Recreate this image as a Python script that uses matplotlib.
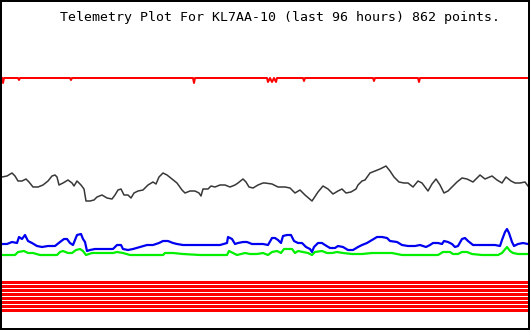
import matplotlib
matplotlib.use("Agg")
import matplotlib.pyplot as plt

title = "Telemetry Plot For KL7AA-10 (last 96 hours) 862 points."

# readings as plotted level (height above bottom of the frame), time in plot columns
red_t = [2, 3, 4, 18, 19, 20, 70, 71, 72, 193, 194, 195, 267, 268, 270, 272, 274, 276, 277,
         303, 304, 305, 373, 374, 375, 418, 419, 420, 528]
red_v = [252, 247, 252, 252, 250, 252, 252, 250, 252, 252, 247, 252, 252, 248, 252, 248, 252, 248, 252,
         252, 249, 252, 252, 249, 252, 252, 248, 252, 252]

blk_t = [2, 7, 12, 15, 18, 22, 26, 29, 33, 38, 43, 48, 52, 55, 57, 59, 63, 68, 72, 74, 77, 81, 84,
         86, 90, 94, 97, 102, 107, 112, 115, 118, 121, 124, 128, 131, 134, 138, 143, 148, 153, 156,
         159, 163, 167, 172, 177, 182, 185, 190, 195, 199, 201, 203, 208, 211, 215, 220, 225, 230,
         235, 238, 243, 246, 249, 253, 258, 263, 265, 272, 278, 285, 290, 295, 300, 305, 312, 318,
         323, 328, 333, 338, 342, 346, 351, 356, 358, 362, 365, 370, 375, 380, 386, 390, 394, 399,
         404, 408, 413, 418, 422, 428, 432, 436, 440, 444, 448, 452, 457, 462, 467, 473, 480, 485,
         492, 497, 502, 506, 511, 515, 520, 525, 528]
blk_v = [153, 154, 157, 154, 149, 149, 151, 148, 143, 143, 145, 149, 154, 155, 153, 145, 147, 150,
         147, 144, 149, 145, 141, 129, 129, 130, 133, 135, 132, 131, 135, 140, 141, 135, 135, 132,
         137, 139, 140, 145, 148, 146, 153, 157, 155, 151, 147, 140, 137, 139, 139, 137, 134, 141,
         141, 144, 143, 145, 145, 143, 145, 147, 151, 148, 143, 142, 145, 147, 147, 146, 143, 143,
         142, 137, 140, 135, 129, 138, 144, 141, 136, 139, 141, 137, 138, 141, 145, 149, 150, 157,
         159, 161, 164, 159, 153, 148, 147, 147, 143, 149, 147, 139, 146, 151, 145, 137, 139, 143,
         148, 152, 151, 148, 155, 151, 154, 150, 147, 153, 149, 147, 147, 148, 144]

blu_t = [2, 7, 12, 17, 19, 22, 25, 28, 32, 37, 42, 48, 55, 60, 64, 67, 70, 73, 77, 81, 83, 85,
         87, 90, 95, 100, 107, 113, 117, 121, 123, 128, 133, 140, 147, 153, 159, 163, 168, 173,
         177, 183, 190, 200, 210, 220, 227, 228, 232, 235, 238, 243, 247, 252, 257, 263, 268, 272,
         275, 278, 281, 283, 287, 291, 294, 298, 302, 306, 310, 312, 314, 318, 322, 325, 330, 335,
         338, 343, 348, 353, 358, 362, 367, 372, 377, 382, 387, 390, 397, 402, 408, 415, 420, 426,
         430, 433, 438, 442, 444, 448, 452, 455, 458, 462, 465, 468, 473, 480, 488, 495, 500, 502,
         505, 507, 509, 512, 514, 518, 523, 528]
blu_v = [86, 86, 88, 87, 93, 91, 95, 89, 87, 84, 83, 84, 84, 88, 91, 91, 87, 85, 95, 96, 91, 88,
         79, 80, 81, 81, 81, 81, 85, 85, 81, 80, 81, 83, 85, 85, 87, 89, 89, 87, 86, 85, 85, 85, 85,
         85, 87, 93, 91, 86, 87, 88, 88, 86, 86, 86, 85, 92, 92, 90, 87, 94, 95, 95, 89, 87, 87, 83,
         81, 78, 83, 87, 87, 85, 82, 82, 84, 83, 80, 80, 83, 85, 87, 90, 93, 93, 92, 89, 88, 85, 84,
         84, 85, 83, 85, 87, 87, 86, 89, 88, 86, 83, 84, 91, 92, 89, 85, 85, 85, 85, 84, 90, 98, 101,
         97, 88, 84, 86, 87, 86]

grn_t = [2, 15, 18, 24, 28, 33, 40, 57, 60, 63, 68, 72, 76, 80, 83, 86, 92, 97, 103, 113, 117,
         123, 130, 140, 163, 165, 173, 183, 200, 220, 227, 229, 233, 237, 245, 250, 257, 263, 268,
         272, 277, 281, 284, 292, 295, 298, 303, 308, 312, 315, 322, 327, 332, 337, 343, 352, 362,
         372, 382, 388, 392, 402, 412, 425, 438, 443, 450, 453, 458, 462, 467, 472, 482, 498, 502,
         507, 510, 513, 518, 528]
grn_v = [75, 75, 78, 79, 77, 77, 75, 75, 78, 79, 77, 77, 80, 81, 79, 75, 77, 77, 77, 77, 78, 77,
         75, 75, 75, 77, 77, 76, 75, 75, 75, 79, 77, 75, 77, 76, 76, 77, 75, 78, 79, 77, 81, 81, 77,
         79, 78, 77, 75, 78, 79, 77, 77, 78, 77, 76, 76, 77, 77, 77, 77, 75, 75, 75, 75, 78, 78, 76,
         76, 78, 78, 76, 75, 75, 77, 83, 79, 77, 76, 76]

band_t = [2, 528]
band_levels = [48.5, 44.5, 40.5, 36.5, 32.5, 28.5, 24.5, 20.5]

fig = plt.figure(figsize=(5.3, 3.3), dpi=100)
ax = fig.add_axes([1 / 530, 1 / 330, 528 / 530, 328 / 330])
ax.set_xlim(1, 529)
ax.set_ylim(1, 329)
ax.set_xticks([])
ax.set_yticks([])
for s in ax.spines.values():
    s.set_linewidth(1.44)
    s.set_color("black")

for lvl in band_levels:
    ax.plot(band_t, [lvl, lvl], color="#ff0000", lw=2.16, solid_capstyle="butt", antialiased=False)
ax.plot(red_t, red_v, color="#ff0000", lw=1.44)
ax.plot(blk_t, blk_v, color="#383838", lw=1.1)
ax.plot(grn_t, grn_v, color="#00f000", lw=1.6)
ax.plot(blu_t, blu_v, color="#0000f0", lw=1.6)

fig.text(60 / 530, 1 - 17.5 / 330, title, family="DejaVu Sans Mono", fontsize=9.5,
         ha="left", va="center", color="black")

fig.savefig("out.png", dpi=100)
